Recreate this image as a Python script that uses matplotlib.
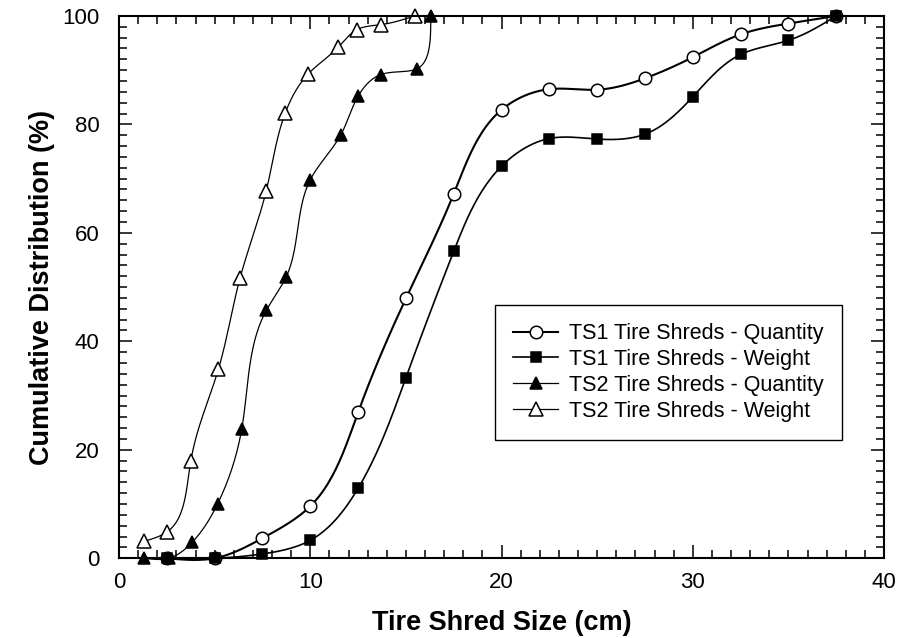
import numpy as np
import matplotlib
matplotlib.use("Agg")
import matplotlib.pyplot as plt

plt.rcParams['font.family'] = ['Liberation Sans', 'DejaVu Sans']

# TS1 shreds: sieve sizes (cm) and cumulative distribution (%)
ts1_size = [2.5, 5.0, 7.5, 10.0, 12.5, 15.0, 17.5, 20.0, 22.5, 25.0, 27.5, 30.0, 32.5, 35.0, 37.5]
ts1_quantity = [0, 0, 3.7, 9.6, 26.9, 47.9, 67.2, 82.7, 86.5, 86.4, 88.5, 92.4, 96.6, 98.6, 100]
ts1_weight = [0, 0, 0.8, 3.3, 12.9, 33.3, 56.6, 72.3, 77.4, 77.3, 78.2, 85.1, 92.9, 95.5, 100]

# TS2 shreds
ts2q_size = [1.3, 2.6, 3.84, 5.15, 6.42, 7.7, 8.73, 10.0, 11.6, 12.5, 13.7, 15.6, 16.3]
ts2_quantity = [0, 0, 3.0, 10.0, 23.9, 45.7, 51.8, 69.8, 78.1, 85.2, 89.2, 90.3, 100]
ts2w_size = [1.3, 2.53, 3.75, 5.2, 6.33, 7.7, 8.69, 9.89, 11.45, 12.45, 13.7, 15.46]
ts2_weight = [3.1, 4.9, 17.9, 34.9, 51.7, 67.8, 82.1, 89.3, 94.2, 97.5, 98.4, 100]


def nat_spline(t, v, tt):
    # natural cubic spline of v(t), evaluated at tt
    n = len(t)
    h = np.diff(t)
    A = np.zeros((n, n))
    b = np.zeros(n)
    A[0, 0] = A[-1, -1] = 1
    for i in range(1, n - 1):
        A[i, i - 1] = h[i - 1]
        A[i, i] = 2 * (h[i - 1] + h[i])
        A[i, i + 1] = h[i]
        b[i] = 3 * ((v[i + 1] - v[i]) / h[i] - (v[i] - v[i - 1]) / h[i - 1])
    c = np.linalg.solve(A, b)
    bb = (v[1:] - v[:-1]) / h - h * (2 * c[:-1] + c[1:]) / 3
    d = (c[1:] - c[:-1]) / (3 * h)
    k = np.clip(np.searchsorted(t, tt, side='right') - 1, 0, n - 2)
    dt = tt - t[k]
    return v[k] + bb[k] * dt + c[k] * dt ** 2 + d[k] * dt ** 3


def smooth(x, y, m=25):
    # parametric spline through the points, returns curve + marker indices
    x = np.asarray(x, float)
    y = np.asarray(y, float)
    sx, sy = x * 19.1, y * 5.36
    t = np.r_[0, np.cumsum(np.hypot(np.diff(sx), np.diff(sy)))]
    tt = np.concatenate([np.linspace(t[i], t[i + 1], m, endpoint=False) for i in range(len(t) - 1)] + [t[-1:]])
    xs = nat_spline(t, sx, tt) / 19.1
    ys = nat_spline(t, sy, tt) / 5.36
    return xs, ys, list(range(0, len(tt), m))


fig = plt.figure(figsize=(8.99, 6.38), dpi=100)
ax = fig.add_axes([0.1324, 0.125, 0.851, 0.85])

series = [
    (ts1_size, ts1_quantity, 'TS1 Tire Shreds - Quantity', 'o', 'white', 9, 1.5),
    (ts1_size, ts1_weight, 'TS1 Tire Shreds - Weight', 's', 'black', 7, 1.2),
    (ts2q_size, ts2_quantity, 'TS2 Tire Shreds - Quantity', '^', 'black', 9, 0.9),
    (ts2w_size, ts2_weight, 'TS2 Tire Shreds - Weight', '^', 'white', 10, 0.9),
]
for x, y, lab, mk, fc, ms, lw in series:
    xs, ys, idx = smooth(x, y)
    ax.plot(xs, ys, color='black', lw=lw, marker=mk, markevery=idx, ms=ms,
            mfc=fc, mec='black', mew=1.1, label=lab, clip_on=False)

ax.set_xlim(0, 40)
ax.set_ylim(0, 100)
ax.set_xticks([0, 10, 20, 30, 40])
ax.set_yticks([0, 20, 40, 60, 80, 100])
ax.set_xticks(np.arange(0, 41, 1), minor=True)
ax.set_yticks(np.arange(0, 101, 2), minor=True)
ax.tick_params(which='both', direction='in', top=True, right=True, labelsize=16, width=1.1)
ax.tick_params(which='major', length=9.5)
ax.tick_params(which='minor', length=5.5)
ax.tick_params(axis='x', pad=10)
ax.tick_params(axis='y', pad=14)
for s in ax.spines.values():
    s.set_linewidth(1.5)

ax.set_xlabel('Tire Shred Size (cm)', fontsize=19.5, fontweight='bold', labelpad=12)
ax.set_ylabel('Cumulative Distribution (%)', fontsize=19.5, fontweight='bold', labelpad=5)

leg = ax.legend(loc='upper left', bbox_to_anchor=(0.491, 0.467), fontsize=15.5, frameon=True,
                fancybox=False, edgecolor='black', framealpha=1, handlelength=2.1,
                labelspacing=0.22, borderpad=0.85, handletextpad=0.5, borderaxespad=0)
leg.get_frame().set_linewidth(1.0)

fig.savefig('out.png', dpi=100)
